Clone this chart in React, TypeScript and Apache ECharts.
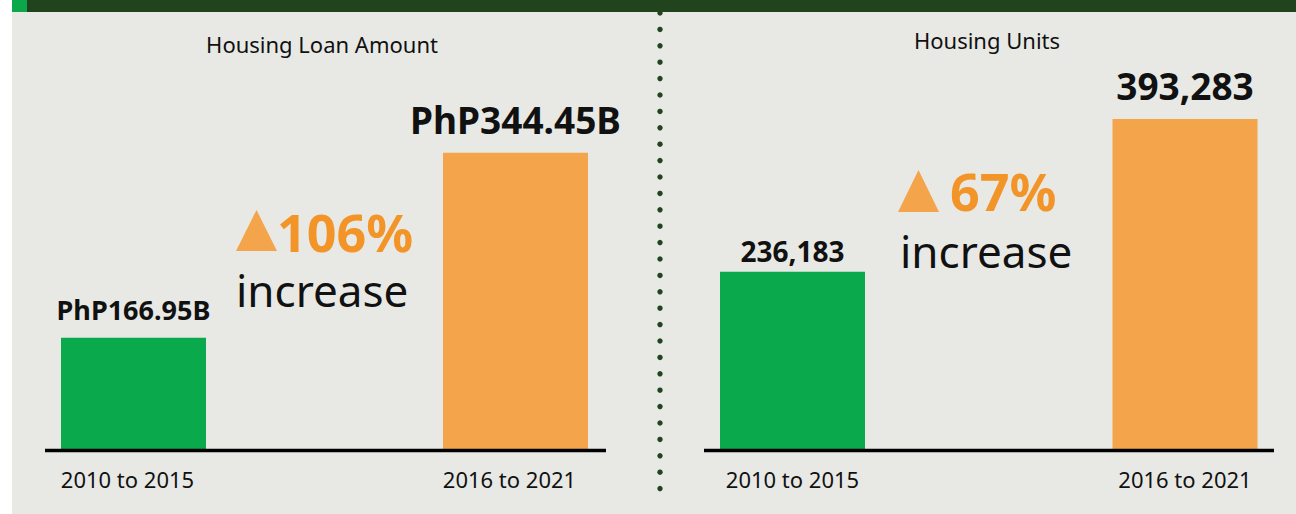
import React, { useEffect, useRef } from 'react';
import * as echarts from 'echarts';

// ---- data ----
const periods = ['2010 to 2015', '2016 to 2021'];
const loanAmounts = [166.95, 344.45]; // PhP billions
const housingUnits = [236183, 393283];
const panelTitles = ['Housing Loan Amount', 'Housing Units'];
const increases = ['106%', '67%'];
const increaseWord = 'increase';

// ---- styles ----
const barColors = ['#09A94C', '#F4A44B'];
const FONT = '"Noto Sans", "DejaVu Sans", sans-serif';
const BG = '#E8E9E5';
const DARK = '#21441F';
const ORANGE_TXT = '#F29428';
const ORANGE_TRI = '#F4A44B';

function txt(text: string, x: number, y: number, size: number, weight: string, fill: string, align = 'left') {
  return {
    type: 'text',
    z: 10,
    style: {
      text, x, y, fill,
      fontSize: size, fontWeight: weight, fontFamily: FONT,
      lineHeight: size,
      textAlign: align, align,
      textVerticalAlign: 'middle', verticalAlign: 'middle',
    },
  };
}

export default function App() {
  const ref = useRef<HTMLDivElement>(null);
  useEffect(() => {
    document.body.style.margin = '0';
    const chart = echarts.init(ref.current!, undefined, { renderer: 'svg' });

    const dots: any[] = [];
    for (let y = 13; y <= 497; y += 16.4) {
      dots.push({ type: 'circle', z: 10, shape: { cx: 660, cy: y, r: 2.7 }, style: { fill: DARK } });
    }

    const labelSizesL = [27, 37];
    const labelSizesR = [28, 37];
    const labelDistL = [15, 15];
    const labelDistR = [7, 15];

    const option: any = {
      animation: false,
      backgroundColor: '#ffffff',
      grid: [
        { left: 133.5, width: 382, top: 95, bottom: 65 },
        { left: 792.5, width: 392.5, top: 95, bottom: 65 },
      ],
      xAxis: [0, 1].map((i) => ({
        gridIndex: i,
        type: 'category',
        data: periods,
        boundaryGap: false,
        axisLine: { show: false },
        axisTick: { show: false },
        splitLine: { show: false },
        axisLabel: {
          fontSize: 22, color: '#111', fontFamily: FONT, margin: 19,
          padding: i === 0 ? [0, 12, 0, 0] : 0,
        },
      })),
      yAxis: [
        { gridIndex: 0, type: 'value', min: 60, max: 400, startValue: 60, show: false, splitLine: { show: false } },
        { gridIndex: 1, type: 'value', min: 54000, max: 418000, startValue: 54000, show: false, splitLine: { show: false } },
      ],
      series: [
        {
          type: 'bar',
          xAxisIndex: 0,
          yAxisIndex: 0,
          barWidth: 145,
          clip: false,
          data: loanAmounts.map((v, i) => ({
            value: v,
            itemStyle: { color: barColors[i] },
            label: { fontSize: labelSizesL[i], distance: labelDistL[i] },
          })),
          label: {
            show: true,
            position: 'top',
            fontWeight: 'bold',
            color: '#111',
            fontFamily: FONT,
            formatter: (p: any) => 'PhP' + p.value.toFixed(2) + 'B',
          },
        },
        {
          type: 'bar',
          xAxisIndex: 1,
          yAxisIndex: 1,
          barWidth: 145,
          clip: false,
          data: housingUnits.map((v, i) => ({
            value: v,
            itemStyle: { color: barColors[i] },
            label: { fontSize: labelSizesR[i], distance: labelDistR[i] },
          })),
          label: {
            show: true,
            position: 'top',
            fontWeight: 'bold',
            color: '#111',
            fontFamily: FONT,
            formatter: (p: any) => Number(p.value).toLocaleString('en-US'),
          },
        },
      ],
      graphic: [
        { type: 'rect', z: 0, shape: { x: 12, y: 12, width: 1284, height: 502 }, style: { fill: BG } },
        { type: 'rect', z: 1, shape: { x: 12, y: 0, width: 1284, height: 12 }, style: { fill: DARK } },
        { type: 'rect', z: 2, shape: { x: 12, y: 0, width: 15, height: 12 }, style: { fill: '#0BA84A' } },
        ...dots,
        { type: 'line', z: 10, shape: { x1: 45, y1: 450.5, x2: 606, y2: 450.5 }, style: { stroke: '#000', lineWidth: 3.5 } },
        { type: 'line', z: 10, shape: { x1: 704, y1: 450.5, x2: 1274, y2: 450.5 }, style: { stroke: '#000', lineWidth: 3.5 } },
        txt(panelTitles[0], 322, 44, 22, 'normal', '#111', 'center'),
        txt(panelTitles[1], 987, 40, 22, 'normal', '#111', 'center'),
        { type: 'polygon', z: 10, shape: { points: [[236, 251], [256.5, 210], [277, 251]] }, style: { fill: ORANGE_TRI } },
        { type: 'polygon', z: 10, shape: { points: [[898, 212], [918.5, 170], [939, 212]] }, style: { fill: ORANGE_TRI } },
        txt(increases[0], 277, 231, 52, 'bold', ORANGE_TXT),
        txt(increases[1], 950, 190, 52, 'bold', ORANGE_TXT),
        txt(increaseWord, 236, 290, 44, 'normal', '#111'),
        txt(increaseWord, 900, 251, 44, 'normal', '#111'),
      ],
    };
    chart.setOption(option);
    return () => chart.dispose();
  }, []);
  return <div ref={ref} style={{ width: 1296, height: 514 }} />;
}
